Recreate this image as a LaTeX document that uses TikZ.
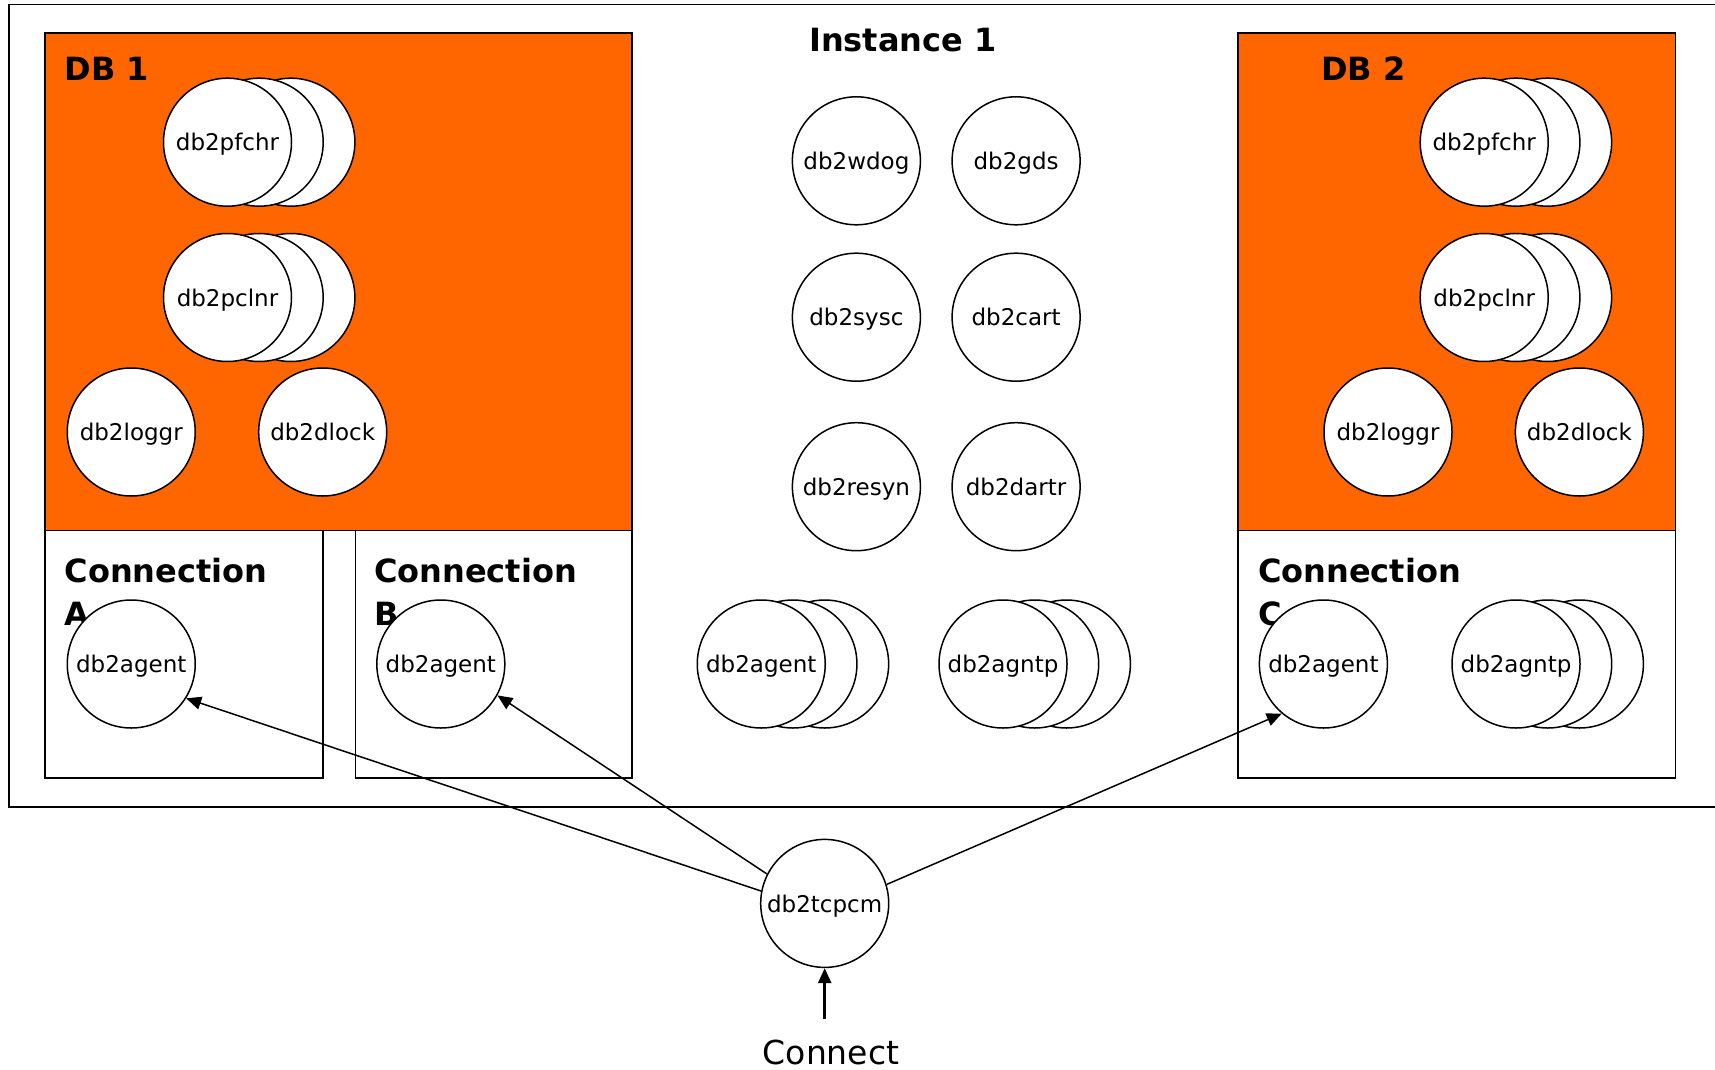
\documentclass[tikz,border=0pt]{standalone}
\usepackage{fontspec}
\setmainfont{DejaVu Sans}
\usetikzlibrary{arrows.meta}
\definecolor{dborange}{HTML}{FF6600}
\tikzset{
  proc/.style={circle, draw, fill=white, line width=1.5pt, minimum size=128pt,
               inner sep=0pt, text height=17.5pt, text depth=0pt,
               font=\fontsize{23}{27}\selectfont},
  frame/.style={draw, line width=1.6pt},
  dbbox/.style={frame, fill=dborange},
  title/.style={font=\fontsize{32}{43}\selectfont\bfseries, inner sep=0pt},
  conntitle/.style={title, anchor=north west, text width=225pt, align=left},
  link/.style={line width=1.5pt, -{Triangle[length=15pt,width=13pt]}},
}
% a process with two more copies of itself stacked behind it
\newcommand\procstack[4]{%
  \node[proc] (#1c) at (#2+63.4,#3) {};
  \node[proc] (#1b) at (#2+31.7,#3) {};
  \node[proc] (#1) at (#2,#3) {#4};
}
\begin{document}
\begin{tikzpicture}[x=1pt,y=-1pt]
\useasboundingbox (0,0) rectangle (1715,1070);

% instance frame (runs off to the right)
\draw[frame] (1730,4.4) -- (8.75,4.4) -- (8.75,807.2) -- (1730,807.2);
\node[title, anchor=base] (inst) at (903,51.5) {Instance 1};

% database 1 and its connections
\draw[dbbox] (44.8,32.8) rectangle (632.2,530.5);
\draw[frame] (44.8,530.5) rectangle (322.7,777.7);
\draw[frame] (355.5,530.5) rectangle (632.2,777.7);
\node[title, anchor=base west] (db1) at (64.5,81) {DB 1};
\node[conntitle] (conA) at (64.5,558) {Connection A};
\node[conntitle] (conB) at (374,558) {Connection B};

\procstack{pfA}{227.5}{142.2}{db2pfchr}
\procstack{pcA}{227.5}{297.5}{db2pclnr}
\node[proc] (logA) at (131.25,432) {db2loggr};
\node[proc] (lckA) at (322.7,432) {db2dlock};
\node[proc] (agA) at (131.25,664) {db2agent};
\node[proc] (agB) at (440.8,664) {db2agent};

% instance-wide processes
\node[proc] (wdog) at (856.4,160.8) {db2wdog};
\node[proc] (gds) at (1016.1,160.8) {db2gds};
\node[proc] (sysc) at (856.4,317.2) {db2sysc};
\node[proc] (cart) at (1016.1,317.2) {db2cart};
\node[proc] (resyn) at (856.4,486.7) {db2resyn};
\node[proc] (dartr) at (1016.1,486.7) {db2dartr};
\procstack{agI}{761.25}{664}{db2agent}
\procstack{apI}{1003}{664}{db2agntp}

% database 2 and its connection
\draw[dbbox] (1238.1,32.8) rectangle (1675.6,530.5);
\draw[frame] (1238.1,530.5) rectangle (1675.6,777.7);
\node[title, anchor=base west] (db2) at (1321,81) {DB 2};
\node[conntitle] (conC) at (1258,558) {Connection C};

\procstack{pfB}{1484.2}{142.2}{db2pfchr}
\procstack{pcB}{1484.2}{297.5}{db2pclnr}
\node[proc] (logB) at (1388,432) {db2loggr};
\node[proc] (lckB) at (1579.4,432) {db2dlock};
\node[proc] (agC) at (1323.4,664) {db2agent};
\procstack{apC}{1516}{664}{db2agntp}

% listener and incoming connection
\node[proc] (tcp) at (824.7,903.4) {db2tcpcm};
\node[inner sep=0pt, anchor=base, font=\fontsize{33}{40}\selectfont] (conn) at (831,1064) {Connect};

\draw[link] (tcp.169) -- (agA.-32);
\draw[link] (tcp.153) -- (agB.-29);
\draw[link] (tcp.17) -- (agC.-130);
\draw[link, line width=2.6pt, shorten <=20pt] (conn.north -| tcp.south) -- (tcp.south);
\end{tikzpicture}
\end{document}
